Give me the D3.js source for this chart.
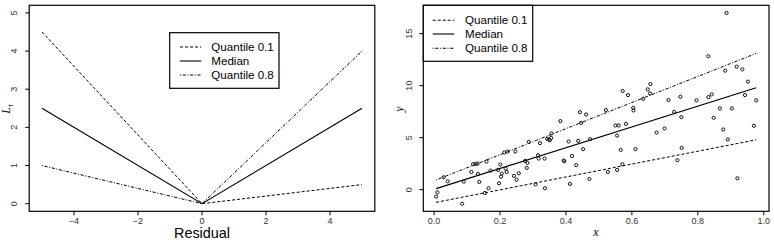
<!DOCTYPE html>
<html><head><meta charset="utf-8">
<script src="https://cdn.jsdelivr.net/npm/d3@7"></script>
<style>body{margin:0;background:#fff}svg{display:block}text{font-family:"Liberation Sans",Arial,sans-serif}</style>
</head><body>
<script>
// ---- Left panel data: check loss functions ----
const residualRange = [-5, 0, 5];
const lossQ01 = [4.5, 0, 0.5];
const lossMedian = [2.5, 0, 2.5];
const lossQ08 = [1, 0, 4];
const leftXTicks = [-4, -2, 0, 2, 4];
const leftYTicks = [0, 1, 2, 3, 4, 5];
const legendLabels = ["Quantile 0.1", "Median", "Quantile 0.8"];

// ---- Right panel data: scatter + fitted quantile lines ----
const ptsX = [0.006,0.010,0.029,0.041,0.085,0.090,0.113,0.118,0.126,0.132,0.133,0.137,0.154,0.159,0.165,0.171,0.194,0.197,0.201,0.203,0.205,0.213,0.217,0.220,0.223,0.242,0.246,0.250,0.257,0.276,0.281,0.283,0.287,0.308,0.315,0.317,0.321,0.335,0.336,0.343,0.348,0.351,0.355,0.356,0.383,0.393,0.395,0.408,0.412,0.418,0.431,0.437,0.442,0.446,0.452,0.461,0.471,0.473,0.521,0.527,0.550,0.555,0.555,0.560,0.566,0.571,0.572,0.582,0.588,0.604,0.605,0.611,0.634,0.648,0.655,0.656,0.675,0.699,0.711,0.728,0.738,0.747,0.750,0.751,0.796,0.832,0.832,0.842,0.848,0.867,0.877,0.883,0.887,0.891,0.903,0.918,0.920,0.935,0.943,0.952,0.970,0.977];
const ptsY = [-0.67,-0.26,1.19,0.80,-1.35,0.77,1.70,2.44,2.47,2.51,1.51,0.74,-0.32,2.70,0.13,1.83,1.90,0.61,2.41,1.25,1.54,3.57,2.02,1.70,3.66,1.32,3.66,0.96,1.57,2.76,2.09,2.57,4.59,0.51,3.31,2.99,4.47,2.99,0.13,4.88,4.82,4.75,4.98,5.40,6.59,2.79,2.73,4.63,0.55,3.24,2.35,4.69,7.45,6.42,3.89,7.23,1.03,4.85,7.65,1.70,6.17,1.90,5.20,6.17,3.82,2.44,9.48,6.33,9.09,7.87,7.61,3.89,8.74,9.64,9.25,10.15,5.49,5.88,8.61,7.48,2.83,8.93,6.97,4.02,8.58,12.82,8.90,9.16,6.91,7.81,5.78,11.44,16.99,4.82,7.81,11.82,1.09,11.56,9.09,10.38,6.14,8.58];
const fitX = [0.006, 0.977];
const fitQ01 = [-1.22, 4.79];
const fitMedian = [0.10, 9.80];
const fitQ08 = [0.93, 13.10];
const rightXTicks = [0, 0.2, 0.4, 0.6, 0.8, 1.0];
const rightYTicks = [0, 5, 10, 15];

const dashes = ["3,2", null, "1,1.6,3.2,1.6"];
const SERIF = "'Liberation Serif','DejaVu Serif',serif";

const svg = d3.select("body").append("svg").attr("width", 774).attr("height", 240);

function ext(arr){ const [a,b]=d3.extent(arr); const e=(b-a)*0.04; return [a-e,b+e]; }
const minus = s => String(s).replace("-", "\u2212");

function axes(g, x, y, xt, yt, xfmt, yfmt, box, ytickx){
  g.append("rect").attr("x",box[0]).attr("y",box[2]).attr("width",box[1]-box[0]).attr("height",box[3]-box[2])
    .attr("fill","none").attr("stroke","#000").attr("stroke-width",1.2);
  xt.forEach(t=>{
    g.append("line").attr("x1",x(t)).attr("x2",x(t)).attr("y1",box[3]).attr("y2",box[3]+4).attr("stroke","#000");
    g.append("text").attr("x",x(t)).attr("y",box[3]+13).attr("text-anchor","middle").attr("font-size",9).attr("fill","#333").text(xfmt(t));
  });
  yt.forEach(t=>{
    g.append("line").attr("x1",box[0]-4).attr("x2",box[0]).attr("y1",y(t)).attr("y2",y(t)).attr("stroke","#000");
    g.append("text").attr("transform",`translate(${ytickx},${y(t)}) rotate(-90)`).attr("text-anchor","middle").attr("font-size",9).attr("fill","#333").text(yfmt(t));
  });
}

function legend(g, x0, y0, w, h, sx1, sx2, tx, rows){
  g.append("rect").attr("x",x0).attr("y",y0).attr("width",w).attr("height",h).attr("fill","#fff").attr("stroke","#000").attr("stroke-width",1.2);
  legendLabels.forEach((l,i)=>{
    const ln = g.append("line").attr("x1",sx1).attr("x2",sx2).attr("y1",rows[i]).attr("y2",rows[i]).attr("stroke","#000").attr("stroke-width",1.1);
    if(dashes[i]) ln.attr("stroke-dasharray",dashes[i]);
    g.append("text").attr("x",tx).attr("y",rows[i]+4).attr("font-size",11.6).text(l);
  });
}

// ---------- Left panel ----------
{
  const box=[29.2,374.8,5.3,211.3];
  const x=d3.scaleLinear().domain([-5.4,5.4]).range([box[0],box[1]]);
  const y=d3.scaleLinear().domain([-0.2,5.2]).range([box[3],box[2]]);
  const g=svg.append("g");
  const line=d3.line().x(d=>x(d[0])).y(d=>y(d[1]));
  [lossQ01,lossMedian,lossQ08].forEach((s,i)=>{
    const p=g.append("path").attr("d",line(residualRange.map((r,j)=>[r,s[j]]))).attr("fill","none").attr("stroke","#000").attr("stroke-width",i===1?1.2:1);
    if(dashes[i]) p.attr("stroke-dasharray",dashes[i]);
  });
  axes(g,x,y,leftXTicks,leftYTicks,minus,String,box,17);
  legend(g,169.7,32.7,109.3,55.6,180,201.3,211.3,[47,61,75]);
  g.append("text").attr("x",202).attr("y",238).attr("text-anchor","middle").attr("font-size",14.4).text("Residual");
  const yl=g.append("text").attr("transform","translate(10,109) rotate(-90)").attr("text-anchor","middle")
    .style("font-family",SERIF).style("font-style","italic").attr("font-size",12);
  yl.append("tspan").text("L");
  yl.append("tspan").attr("dy",3).attr("font-size",8).text("τ");
}

// ---------- Right panel ----------
{
  const box=[423.3,769,5.3,211.3];
  const x=d3.scaleLinear().domain(ext(ptsX)).range([box[0],box[1]]);
  const y=d3.scaleLinear().domain(ext(ptsY)).range([box[3],box[2]]);
  const g=svg.append("g");
  const line=d3.line().x(d=>x(d[0])).y(d=>y(d[1]));
  [fitQ01,fitMedian,fitQ08].forEach((s,i)=>{
    const p=g.append("path").attr("d",line(fitX.map((v,j)=>[v,s[j]]))).attr("fill","none").attr("stroke","#000").attr("stroke-width",i===1?1.2:1);
    if(dashes[i]) p.attr("stroke-dasharray",dashes[i]);
  });
  g.selectAll("circle").data(ptsX.map((v,i)=>[v,ptsY[i]])).enter().append("circle")
    .attr("cx",d=>x(d[0])).attr("cy",d=>y(d[1])).attr("r",1.6).attr("fill","none").attr("stroke","#111").attr("stroke-width",1);
  axes(g,x,y,rightXTicks,rightYTicks,d3.format(".1f"),String,box,412);
  legend(g,423.3,5.3,109.4,56,432.7,454.3,465,[20.3,34,48.3]);
  g.append("text").attr("x",596).attr("y",236).attr("text-anchor","middle").style("font-family",SERIF).style("font-style","italic").attr("font-size",12).text("x");
  g.append("text").attr("transform","translate(403,109) rotate(-90)").attr("text-anchor","middle").style("font-family",SERIF).style("font-style","italic").attr("font-size",12).text("y");
}
</script>
</body></html>
